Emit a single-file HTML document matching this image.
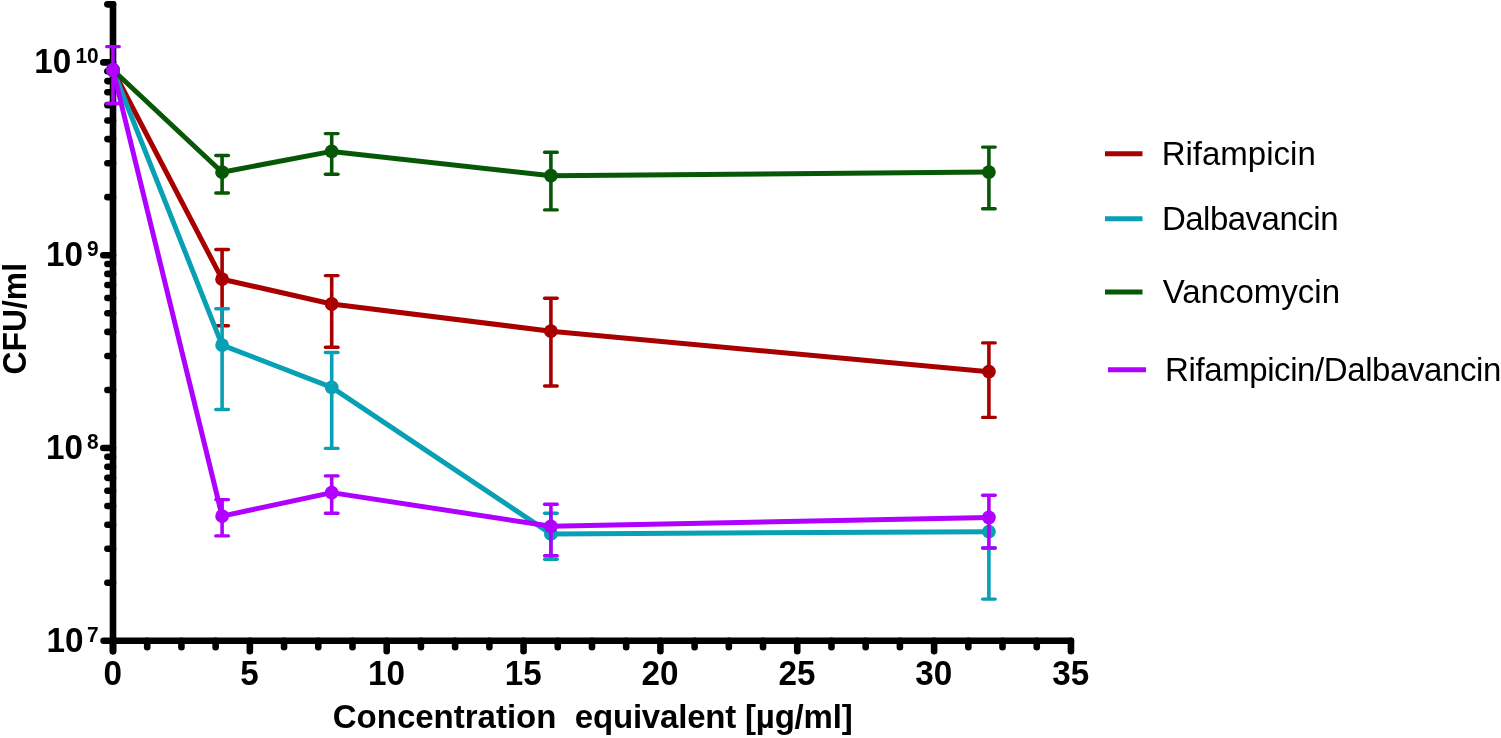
<!DOCTYPE html>
<html><head><meta charset="utf-8"><title>CFU/ml chart</title>
<style>html,body{margin:0;padding:0;background:#fff;overflow:hidden}svg{display:block}</style>
</head><body>
<svg width="1501" height="738" viewBox="0 0 1501 738" font-family="Liberation Sans, Arial, sans-serif">
<rect width="1501" height="738" fill="#fff"/>
<g><line x1="113.0" y1="4.36" x2="113.0" y2="651.3" stroke="#000" stroke-width="6.6" stroke-linecap="round"/><line x1="103.6" y1="640.8" x2="1070.95" y2="640.8" stroke="#000" stroke-width="6.6" stroke-linecap="round"/><line x1="103.3" y1="62.40" x2="113.0" y2="62.40" stroke="#000" stroke-width="6.6" stroke-linecap="round"/><line x1="103.3" y1="255.20" x2="113.0" y2="255.20" stroke="#000" stroke-width="6.6" stroke-linecap="round"/><line x1="103.3" y1="448.00" x2="113.0" y2="448.00" stroke="#000" stroke-width="6.6" stroke-linecap="round"/><line x1="107.4" y1="582.76" x2="113.0" y2="582.76" stroke="#000" stroke-width="6.6" stroke-linecap="round"/><line x1="107.4" y1="548.81" x2="113.0" y2="548.81" stroke="#000" stroke-width="6.6" stroke-linecap="round"/><line x1="107.4" y1="524.72" x2="113.0" y2="524.72" stroke="#000" stroke-width="6.6" stroke-linecap="round"/><line x1="107.4" y1="506.04" x2="113.0" y2="506.04" stroke="#000" stroke-width="6.6" stroke-linecap="round"/><line x1="107.4" y1="490.77" x2="113.0" y2="490.77" stroke="#000" stroke-width="6.6" stroke-linecap="round"/><line x1="107.4" y1="477.87" x2="113.0" y2="477.87" stroke="#000" stroke-width="6.6" stroke-linecap="round"/><line x1="107.4" y1="466.68" x2="113.0" y2="466.68" stroke="#000" stroke-width="6.6" stroke-linecap="round"/><line x1="107.4" y1="456.82" x2="113.0" y2="456.82" stroke="#000" stroke-width="6.6" stroke-linecap="round"/><line x1="107.4" y1="389.96" x2="113.0" y2="389.96" stroke="#000" stroke-width="6.6" stroke-linecap="round"/><line x1="107.4" y1="356.01" x2="113.0" y2="356.01" stroke="#000" stroke-width="6.6" stroke-linecap="round"/><line x1="107.4" y1="331.92" x2="113.0" y2="331.92" stroke="#000" stroke-width="6.6" stroke-linecap="round"/><line x1="107.4" y1="313.24" x2="113.0" y2="313.24" stroke="#000" stroke-width="6.6" stroke-linecap="round"/><line x1="107.4" y1="297.97" x2="113.0" y2="297.97" stroke="#000" stroke-width="6.6" stroke-linecap="round"/><line x1="107.4" y1="285.07" x2="113.0" y2="285.07" stroke="#000" stroke-width="6.6" stroke-linecap="round"/><line x1="107.4" y1="273.88" x2="113.0" y2="273.88" stroke="#000" stroke-width="6.6" stroke-linecap="round"/><line x1="107.4" y1="264.02" x2="113.0" y2="264.02" stroke="#000" stroke-width="6.6" stroke-linecap="round"/><line x1="107.4" y1="197.16" x2="113.0" y2="197.16" stroke="#000" stroke-width="6.6" stroke-linecap="round"/><line x1="107.4" y1="163.21" x2="113.0" y2="163.21" stroke="#000" stroke-width="6.6" stroke-linecap="round"/><line x1="107.4" y1="139.12" x2="113.0" y2="139.12" stroke="#000" stroke-width="6.6" stroke-linecap="round"/><line x1="107.4" y1="120.44" x2="113.0" y2="120.44" stroke="#000" stroke-width="6.6" stroke-linecap="round"/><line x1="107.4" y1="105.17" x2="113.0" y2="105.17" stroke="#000" stroke-width="6.6" stroke-linecap="round"/><line x1="107.4" y1="92.27" x2="113.0" y2="92.27" stroke="#000" stroke-width="6.6" stroke-linecap="round"/><line x1="107.4" y1="81.08" x2="113.0" y2="81.08" stroke="#000" stroke-width="6.6" stroke-linecap="round"/><line x1="107.4" y1="71.22" x2="113.0" y2="71.22" stroke="#000" stroke-width="6.6" stroke-linecap="round"/><line x1="107.4" y1="4.36" x2="113.0" y2="4.36" stroke="#000" stroke-width="6.6" stroke-linecap="round"/><line x1="113.00" y1="640.8" x2="113.00" y2="651.3" stroke="#000" stroke-width="6.6" stroke-linecap="round"/><line x1="147.21" y1="640.8" x2="147.21" y2="647.2" stroke="#000" stroke-width="6.6" stroke-linecap="round"/><line x1="181.43" y1="640.8" x2="181.43" y2="647.2" stroke="#000" stroke-width="6.6" stroke-linecap="round"/><line x1="215.64" y1="640.8" x2="215.64" y2="647.2" stroke="#000" stroke-width="6.6" stroke-linecap="round"/><line x1="249.85" y1="640.8" x2="249.85" y2="651.3" stroke="#000" stroke-width="6.6" stroke-linecap="round"/><line x1="284.06" y1="640.8" x2="284.06" y2="647.2" stroke="#000" stroke-width="6.6" stroke-linecap="round"/><line x1="318.27" y1="640.8" x2="318.27" y2="647.2" stroke="#000" stroke-width="6.6" stroke-linecap="round"/><line x1="352.49" y1="640.8" x2="352.49" y2="647.2" stroke="#000" stroke-width="6.6" stroke-linecap="round"/><line x1="386.70" y1="640.8" x2="386.70" y2="651.3" stroke="#000" stroke-width="6.6" stroke-linecap="round"/><line x1="420.91" y1="640.8" x2="420.91" y2="647.2" stroke="#000" stroke-width="6.6" stroke-linecap="round"/><line x1="455.12" y1="640.8" x2="455.12" y2="647.2" stroke="#000" stroke-width="6.6" stroke-linecap="round"/><line x1="489.34" y1="640.8" x2="489.34" y2="647.2" stroke="#000" stroke-width="6.6" stroke-linecap="round"/><line x1="523.55" y1="640.8" x2="523.55" y2="651.3" stroke="#000" stroke-width="6.6" stroke-linecap="round"/><line x1="557.76" y1="640.8" x2="557.76" y2="647.2" stroke="#000" stroke-width="6.6" stroke-linecap="round"/><line x1="591.98" y1="640.8" x2="591.98" y2="647.2" stroke="#000" stroke-width="6.6" stroke-linecap="round"/><line x1="626.19" y1="640.8" x2="626.19" y2="647.2" stroke="#000" stroke-width="6.6" stroke-linecap="round"/><line x1="660.40" y1="640.8" x2="660.40" y2="651.3" stroke="#000" stroke-width="6.6" stroke-linecap="round"/><line x1="694.61" y1="640.8" x2="694.61" y2="647.2" stroke="#000" stroke-width="6.6" stroke-linecap="round"/><line x1="728.83" y1="640.8" x2="728.83" y2="647.2" stroke="#000" stroke-width="6.6" stroke-linecap="round"/><line x1="763.04" y1="640.8" x2="763.04" y2="647.2" stroke="#000" stroke-width="6.6" stroke-linecap="round"/><line x1="797.25" y1="640.8" x2="797.25" y2="651.3" stroke="#000" stroke-width="6.6" stroke-linecap="round"/><line x1="831.46" y1="640.8" x2="831.46" y2="647.2" stroke="#000" stroke-width="6.6" stroke-linecap="round"/><line x1="865.68" y1="640.8" x2="865.68" y2="647.2" stroke="#000" stroke-width="6.6" stroke-linecap="round"/><line x1="899.89" y1="640.8" x2="899.89" y2="647.2" stroke="#000" stroke-width="6.6" stroke-linecap="round"/><line x1="934.10" y1="640.8" x2="934.10" y2="651.3" stroke="#000" stroke-width="6.6" stroke-linecap="round"/><line x1="968.31" y1="640.8" x2="968.31" y2="647.2" stroke="#000" stroke-width="6.6" stroke-linecap="round"/><line x1="1002.52" y1="640.8" x2="1002.52" y2="647.2" stroke="#000" stroke-width="6.6" stroke-linecap="round"/><line x1="1036.74" y1="640.8" x2="1036.74" y2="647.2" stroke="#000" stroke-width="6.6" stroke-linecap="round"/><line x1="1070.95" y1="640.8" x2="1070.95" y2="651.3" stroke="#000" stroke-width="6.6" stroke-linecap="round"/></g>
<g stroke="#a80000"><line x1="222.10" y1="249.5" x2="222.10" y2="325.8" stroke-width="3.6"/><line x1="215.80" y1="249.5" x2="228.40" y2="249.5" stroke-width="3.4" stroke-linecap="round"/><line x1="215.80" y1="325.8" x2="228.40" y2="325.8" stroke-width="3.4" stroke-linecap="round"/><line x1="331.70" y1="275.6" x2="331.70" y2="347.2" stroke-width="3.6"/><line x1="325.40" y1="275.6" x2="338.00" y2="275.6" stroke-width="3.4" stroke-linecap="round"/><line x1="325.40" y1="347.2" x2="338.00" y2="347.2" stroke-width="3.4" stroke-linecap="round"/><line x1="550.90" y1="298.2" x2="550.90" y2="386" stroke-width="3.6"/><line x1="544.60" y1="298.2" x2="557.20" y2="298.2" stroke-width="3.4" stroke-linecap="round"/><line x1="544.60" y1="386" x2="557.20" y2="386" stroke-width="3.4" stroke-linecap="round"/><line x1="988.90" y1="342.9" x2="988.90" y2="417.4" stroke-width="3.6"/><line x1="982.60" y1="342.9" x2="995.20" y2="342.9" stroke-width="3.4" stroke-linecap="round"/><line x1="982.60" y1="417.4" x2="995.20" y2="417.4" stroke-width="3.4" stroke-linecap="round"/><polyline points="113.00,70 222.10,279.2 331.70,304 550.90,331.2 988.90,371.7" fill="none" stroke-width="5.0" stroke-linejoin="round"/><circle cx="113.00" cy="70" r="6.9" fill="#a80000" stroke="none"/><circle cx="222.10" cy="279.2" r="6.9" fill="#a80000" stroke="none"/><circle cx="331.70" cy="304" r="6.9" fill="#a80000" stroke="none"/><circle cx="550.90" cy="331.2" r="6.9" fill="#a80000" stroke="none"/><circle cx="988.90" cy="371.7" r="6.9" fill="#a80000" stroke="none"/></g><g stroke="#08a0b4"><line x1="222.10" y1="308.8" x2="222.10" y2="409.5" stroke-width="3.6"/><line x1="215.80" y1="308.8" x2="228.40" y2="308.8" stroke-width="3.4" stroke-linecap="round"/><line x1="215.80" y1="409.5" x2="228.40" y2="409.5" stroke-width="3.4" stroke-linecap="round"/><line x1="331.70" y1="352.5" x2="331.70" y2="448.4" stroke-width="3.6"/><line x1="325.40" y1="352.5" x2="338.00" y2="352.5" stroke-width="3.4" stroke-linecap="round"/><line x1="325.40" y1="448.4" x2="338.00" y2="448.4" stroke-width="3.4" stroke-linecap="round"/><line x1="550.90" y1="513.3" x2="550.90" y2="559.3" stroke-width="3.6"/><line x1="544.60" y1="513.3" x2="557.20" y2="513.3" stroke-width="3.4" stroke-linecap="round"/><line x1="544.60" y1="559.3" x2="557.20" y2="559.3" stroke-width="3.4" stroke-linecap="round"/><line x1="988.90" y1="548" x2="988.90" y2="599.1" stroke-width="3.6"/><line x1="982.60" y1="548" x2="995.20" y2="548" stroke-width="3.4" stroke-linecap="round"/><line x1="982.60" y1="599.1" x2="995.20" y2="599.1" stroke-width="3.4" stroke-linecap="round"/><polyline points="113.00,70 222.10,345.1 331.70,387.3 550.90,533.9 988.90,531.7" fill="none" stroke-width="5.0" stroke-linejoin="round"/><circle cx="113.00" cy="70" r="6.9" fill="#08a0b4" stroke="none"/><circle cx="222.10" cy="345.1" r="6.9" fill="#08a0b4" stroke="none"/><circle cx="331.70" cy="387.3" r="6.9" fill="#08a0b4" stroke="none"/><circle cx="550.90" cy="533.9" r="6.9" fill="#08a0b4" stroke="none"/><circle cx="988.90" cy="531.7" r="6.9" fill="#08a0b4" stroke="none"/></g><g stroke="#065806"><line x1="222.10" y1="155.5" x2="222.10" y2="193" stroke-width="3.6"/><line x1="215.80" y1="155.5" x2="228.40" y2="155.5" stroke-width="3.4" stroke-linecap="round"/><line x1="215.80" y1="193" x2="228.40" y2="193" stroke-width="3.4" stroke-linecap="round"/><line x1="331.70" y1="133.6" x2="331.70" y2="174.2" stroke-width="3.6"/><line x1="325.40" y1="133.6" x2="338.00" y2="133.6" stroke-width="3.4" stroke-linecap="round"/><line x1="325.40" y1="174.2" x2="338.00" y2="174.2" stroke-width="3.4" stroke-linecap="round"/><line x1="550.90" y1="152.2" x2="550.90" y2="209.9" stroke-width="3.6"/><line x1="544.60" y1="152.2" x2="557.20" y2="152.2" stroke-width="3.4" stroke-linecap="round"/><line x1="544.60" y1="209.9" x2="557.20" y2="209.9" stroke-width="3.4" stroke-linecap="round"/><line x1="988.90" y1="147.1" x2="988.90" y2="208.7" stroke-width="3.6"/><line x1="982.60" y1="147.1" x2="995.20" y2="147.1" stroke-width="3.4" stroke-linecap="round"/><line x1="982.60" y1="208.7" x2="995.20" y2="208.7" stroke-width="3.4" stroke-linecap="round"/><polyline points="113.00,70 222.10,172.2 331.70,151.4 550.90,175.7 988.90,172.1" fill="none" stroke-width="5.0" stroke-linejoin="round"/><circle cx="113.00" cy="70" r="6.9" fill="#065806" stroke="none"/><circle cx="222.10" cy="172.2" r="6.9" fill="#065806" stroke="none"/><circle cx="331.70" cy="151.4" r="6.9" fill="#065806" stroke="none"/><circle cx="550.90" cy="175.7" r="6.9" fill="#065806" stroke="none"/><circle cx="988.90" cy="172.1" r="6.9" fill="#065806" stroke="none"/></g><g stroke="#b000ff"><line x1="113.00" y1="46.6" x2="113.00" y2="103.5" stroke-width="3.6"/><line x1="106.70" y1="46.6" x2="119.30" y2="46.6" stroke-width="3.4" stroke-linecap="round"/><line x1="106.70" y1="103.5" x2="119.30" y2="103.5" stroke-width="3.4" stroke-linecap="round"/><line x1="222.10" y1="499.6" x2="222.10" y2="535.9" stroke-width="3.6"/><line x1="215.80" y1="499.6" x2="228.40" y2="499.6" stroke-width="3.4" stroke-linecap="round"/><line x1="215.80" y1="535.9" x2="228.40" y2="535.9" stroke-width="3.4" stroke-linecap="round"/><line x1="331.70" y1="475.9" x2="331.70" y2="513.3" stroke-width="3.6"/><line x1="325.40" y1="475.9" x2="338.00" y2="475.9" stroke-width="3.4" stroke-linecap="round"/><line x1="325.40" y1="513.3" x2="338.00" y2="513.3" stroke-width="3.4" stroke-linecap="round"/><line x1="550.90" y1="504.3" x2="550.90" y2="555.7" stroke-width="3.6"/><line x1="544.60" y1="504.3" x2="557.20" y2="504.3" stroke-width="3.4" stroke-linecap="round"/><line x1="544.60" y1="555.7" x2="557.20" y2="555.7" stroke-width="3.4" stroke-linecap="round"/><line x1="988.90" y1="495.3" x2="988.90" y2="548" stroke-width="3.6"/><line x1="982.60" y1="495.3" x2="995.20" y2="495.3" stroke-width="3.4" stroke-linecap="round"/><line x1="982.60" y1="548" x2="995.20" y2="548" stroke-width="3.4" stroke-linecap="round"/><polyline points="113.00,70 222.10,516.1 331.70,492.6 550.90,526.3 988.90,517.5" fill="none" stroke-width="5.0" stroke-linejoin="round"/><circle cx="113.00" cy="70" r="6.9" fill="#b000ff" stroke="none"/><circle cx="222.10" cy="516.1" r="6.9" fill="#b000ff" stroke="none"/><circle cx="331.70" cy="492.6" r="6.9" fill="#b000ff" stroke="none"/><circle cx="550.90" cy="526.3" r="6.9" fill="#b000ff" stroke="none"/><circle cx="988.90" cy="517.5" r="6.9" fill="#b000ff" stroke="none"/></g>
<g fill="#000"><text transform="translate(112.70,684.8) scale(0.95,1)" text-anchor="middle" font-weight="bold" font-size="35">0</text><text transform="translate(249.55,684.8) scale(0.95,1)" text-anchor="middle" font-weight="bold" font-size="35">5</text><text transform="translate(386.40,684.8) scale(0.95,1)" text-anchor="middle" font-weight="bold" font-size="35">10</text><text transform="translate(523.25,684.8) scale(0.95,1)" text-anchor="middle" font-weight="bold" font-size="35">15</text><text transform="translate(660.10,684.8) scale(0.95,1)" text-anchor="middle" font-weight="bold" font-size="35">20</text><text transform="translate(796.95,684.8) scale(0.95,1)" text-anchor="middle" font-weight="bold" font-size="35">25</text><text transform="translate(933.80,684.8) scale(0.95,1)" text-anchor="middle" font-weight="bold" font-size="35">30</text><text transform="translate(1070.65,684.8) scale(0.95,1)" text-anchor="middle" font-weight="bold" font-size="35">35</text><text transform="translate(98.7,62.8) scale(0.95,1)" text-anchor="end" font-weight="bold" font-size="22">10</text><text transform="translate(98.7,255.8) scale(0.95,1)" text-anchor="end" font-weight="bold" font-size="22">9</text><text transform="translate(98.7,448.8) scale(0.95,1)" text-anchor="end" font-weight="bold" font-size="22">8</text><text transform="translate(98.7,641.8) scale(0.95,1)" text-anchor="end" font-weight="bold" font-size="22">7</text><text transform="translate(71.3,73.3) scale(0.95,1)" text-anchor="end" font-weight="bold" font-size="35">10</text><text transform="translate(83,266.3) scale(0.95,1)" text-anchor="end" font-weight="bold" font-size="35">10</text><text transform="translate(83,459.3) scale(0.95,1)" text-anchor="end" font-weight="bold" font-size="35">10</text><text transform="translate(83.4,652.3) scale(0.95,1)" text-anchor="end" font-weight="bold" font-size="35">10</text><text transform="translate(26.3,318.7) rotate(-90)" text-anchor="middle" font-weight="bold" font-size="32.5" textLength="111.5" lengthAdjust="spacingAndGlyphs">CFU/ml</text><text x="332.75" y="728.3" font-weight="bold" font-size="33">Concentration</text><text x="574.8" y="728.3" font-weight="bold" font-size="33" textLength="277.9" lengthAdjust="spacing">equivalent [µg/ml]</text></g>
<g><line x1="1105" y1="153.7" x2="1142.5" y2="153.7" stroke="#a80000" stroke-width="5"/><text x="1161.7" y="165.2" font-size="33">Rifampicin</text><line x1="1105" y1="218.7" x2="1142.5" y2="218.7" stroke="#08a0b4" stroke-width="5"/><text x="1161.9" y="230.3" font-size="33" textLength="176.6" lengthAdjust="spacing">Dalbavancin</text><line x1="1105" y1="292" x2="1142.5" y2="292" stroke="#065806" stroke-width="5"/><text x="1162.7" y="303.3" font-size="33">Vancomycin</text><line x1="1108" y1="369.8" x2="1146" y2="369.8" stroke="#b000ff" stroke-width="5"/><text x="1165.1" y="381" font-size="33" textLength="336.2" lengthAdjust="spacing">Rifampicin/Dalbavancin</text></g>
</svg>
</body></html>
